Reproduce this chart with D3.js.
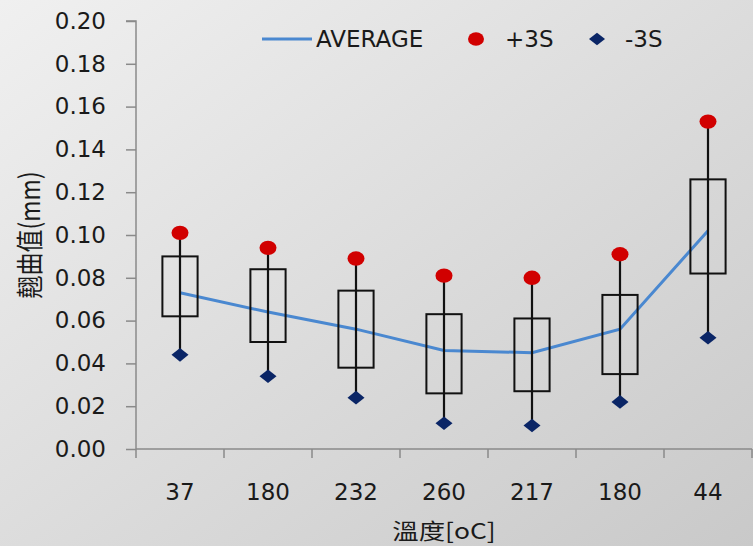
<!DOCTYPE html>
<html>
<head>
<meta charset="utf-8">
<script src="https://cdn.jsdelivr.net/npm/d3@7/dist/d3.min.js"></script>
<style>
  html, body { margin: 0; padding: 0; background: #e0e0e0; }
  svg { display: block; }
</style>
</head>
<body>
<svg id="chart" width="753" height="546"></svg>
<script>
// ---- data ----
const categories = ["37", "180", "232", "260", "217", "180", "44"];
const average    = [0.073, 0.064, 0.056, 0.046, 0.045, 0.056, 0.102];
const plus3S     = [0.101, 0.094, 0.089, 0.081, 0.080, 0.091, 0.153];
const minus3S    = [0.044, 0.034, 0.024, 0.012, 0.011, 0.022, 0.052];
const boxTop     = [0.090, 0.084, 0.074, 0.063, 0.061, 0.072, 0.126];
const boxBottom  = [0.062, 0.050, 0.038, 0.026, 0.027, 0.035, 0.082];
const yTicks     = [0, 0.02, 0.04, 0.06, 0.08, 0.10, 0.12, 0.14, 0.16, 0.18, 0.20];
const seriesNames = ["AVERAGE", "+3S", "-3S"];
const yTitle = "翹曲值(mm)";
const xTitle = "溫度[oC]";

// ---- setup ----
const svg = d3.select("#chart");
const W = 753, H = 546;
const pL = 136, pR = 752, pT = 21, pB = 449;

const defs = svg.append("defs");
const grad = defs.append("linearGradient").attr("id", "bg")
  .attr("x1", "0%").attr("y1", "0%").attr("x2", "100%").attr("y2", "100%");
grad.append("stop").attr("offset", "0%").attr("stop-color", "#f0f0f0");
grad.append("stop").attr("offset", "100%").attr("stop-color", "#c9c9c9");
svg.append("rect").attr("width", W).attr("height", H).attr("fill", "url(#bg)");

const idx = categories.map((d, i) => i);
const x = d3.scaleBand().domain(idx).range([pL, pR]).paddingInner(0).paddingOuter(0);
const y = d3.scaleLinear().domain([0, 0.2]).range([pB, pT]);
const cx = i => x(i) + x.bandwidth() / 2;
const boxW = x.bandwidth() * 0.4;

const font = "'DejaVu Sans', Verdana, sans-serif";
const axisColor = "#8a8a8a";
const textColor = "#1a1a1a";

// ---- y axis ----
const yAxis = svg.append("g").attr("transform", `translate(${pL},0)`)
  .call(d3.axisLeft(y).tickValues(yTicks).tickFormat(d3.format(".2f")).tickSize(10).tickPadding(20));
yAxis.selectAll("path, line").attr("stroke", axisColor).attr("stroke-width", 1.5);
yAxis.select(".domain").attr("d", `M-10,${pT}H0V${pB}`);
yAxis.selectAll("text").attr("font-family", font).attr("font-size", 23).attr("fill", textColor);

// ---- x axis ----
const xAxisG = svg.append("g").attr("transform", `translate(0,${pB})`);
xAxisG.append("line").attr("x1", pL).attr("x2", pR).attr("y1", 0).attr("y2", 0)
  .attr("stroke", axisColor).attr("stroke-width", 1.5);
const boundaries = idx.map(i => x(i)).concat([x(idx[idx.length - 1]) + x.bandwidth()]);
xAxisG.selectAll("line.tk").data(boundaries).join("line").attr("class", "tk")
  .attr("x1", d => d).attr("x2", d => d).attr("y1", 0).attr("y2", 9)
  .attr("stroke", axisColor).attr("stroke-width", 1.5);
xAxisG.selectAll("text").data(idx).join("text")
  .attr("x", i => cx(i)).attr("y", 51)
  .attr("text-anchor", "middle")
  .attr("font-family", font).attr("font-size", 23).attr("fill", textColor)
  .text(i => categories[i]);

// ---- average line ----
const line = d3.line().x((d, i) => cx(i)).y(d => y(d));
svg.append("path").datum(average).attr("d", line)
  .attr("fill", "none").attr("stroke", "#4a88d0").attr("stroke-width", 3);

// ---- boxes ----
svg.append("g").selectAll("rect").data(idx).join("rect")
  .attr("x", i => cx(i) - boxW / 2).attr("width", boxW)
  .attr("y", i => y(boxTop[i])).attr("height", i => y(boxBottom[i]) - y(boxTop[i]))
  .attr("fill", "none").attr("stroke", "#111").attr("stroke-width", 2);

// ---- whiskers ----
svg.append("g").selectAll("line").data(idx).join("line")
  .attr("x1", i => cx(i)).attr("x2", i => cx(i))
  .attr("y1", i => y(plus3S[i])).attr("y2", i => y(minus3S[i]))
  .attr("stroke", "#111").attr("stroke-width", 2.2);

// ---- markers ----
const red = "#d10000", navy = "#0a2566";
function diamond(sel, w, h) {
  return sel.attr("d", `M0,${-h}L${w},0L0,${h}L${-w},0Z`);
}
svg.append("g").selectAll("ellipse").data(idx).join("ellipse")
  .attr("cx", i => cx(i)).attr("cy", i => y(plus3S[i]))
  .attr("rx", 8.5).attr("ry", 7.2).attr("fill", red);
svg.append("g").selectAll("path").data(idx).join("path")
  .attr("transform", i => `translate(${cx(i)},${y(minus3S[i])})`)
  .call(diamond, 8.5, 6.8).attr("fill", navy);

// ---- legend ----
const lg = svg.append("g");
const ly = 39;
lg.append("line").attr("x1", 262).attr("x2", 312).attr("y1", ly).attr("y2", ly)
  .attr("stroke", "#4a88d0").attr("stroke-width", 3);
lg.append("text").attr("x", 316).attr("y", ly + 8.3).text(seriesNames[0]);
lg.append("ellipse").attr("cx", 476).attr("cy", ly).attr("rx", 8).attr("ry", 6.8).attr("fill", red);
lg.append("text").attr("x", 505).attr("y", ly + 8.3).text(seriesNames[1]);
lg.append("path").attr("transform", `translate(597,${ly})`).call(diamond, 8, 6.2).attr("fill", navy);
lg.append("text").attr("x", 625).attr("y", ly + 8.3).text(seriesNames[2]);
lg.selectAll("text").attr("font-family", font).attr("font-size", 23).attr("fill", textColor);

// ---- titles ----
const cjk = "'Noto Sans CJK TC', 'Noto Sans CJK SC', sans-serif";
svg.append("text")
  .attr("transform", "translate(40,235) scale(1.2,1) rotate(-90)")
  .attr("text-anchor", "middle")
  .attr("font-family", cjk).attr("font-size", 23).attr("fill", textColor)
  .text(yTitle);
svg.append("text")
  .attr("transform", "translate(444,539) scale(1.2,1)")
  .attr("text-anchor", "middle")
  .attr("font-family", cjk).attr("font-size", 22).attr("fill", textColor)
  .text(xTitle);
</script>
</body>
</html>
